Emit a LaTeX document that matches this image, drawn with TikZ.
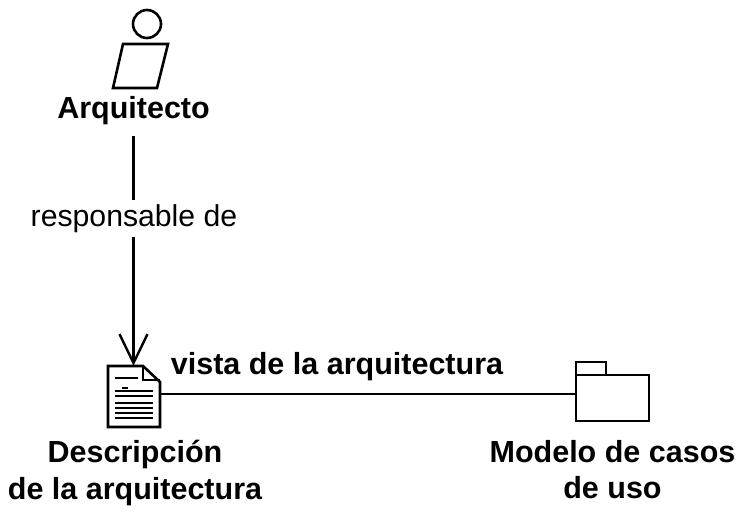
\documentclass[tikz,border=0pt]{standalone}
\usepackage{fontspec}
\setmainfont{Liberation Sans}
\usetikzlibrary{arrows.meta}
\tikzset{
  shapeline/.style={draw=black,line width=2.6pt,line join=miter,fill=white},
  rule/.style={draw=black,line width=2pt},
  conn/.style={draw=black,line width=2.4pt},
  boldlabel/.style={font=\fontsize{30.5}{37}\selectfont\bfseries,align=center,inner sep=0pt},
  boldlabeltight/.style={font=\fontsize{30.5}{36}\selectfont\bfseries,align=center,inner sep=0pt},
  connlabel/.style={font=\fontsize{30.2}{34}\selectfont,inner sep=0pt},
}
\begin{document}
\begin{tikzpicture}[x=1pt,y=-1pt]
\useasboundingbox (0,0) rectangle (742,515);
% actor
\node[shapeline,circle,minimum size=28pt,inner sep=0pt] (head) at (147,24) {};
\draw[shapeline] (123,44) -- (168,44) -- (157,88) -- (113,88) -- cycle;
\node[boldlabel] (arq) at (133.5,110.5) {Arquitecto};
% document
\node[inner sep=0pt,minimum width=52pt,minimum height=61pt] (doc) at (134,396.5) {};
\draw[shapeline] (108,366) -- (143,366) -- (160,382) -- (160,427) -- (108,427) -- cycle;
\draw[draw=black,line width=2pt,line join=miter] (143,366) -- (143,380) -- (160,380);
\foreach \yy/\xa/\xb in {378/115/138, 388/122/128, 390.5/115/153, 396/115/153, 403/115/153, 408/115/153, 413/115/153, 418/115/153}{
  \draw[rule] (\xa,\yy) -- (\xb,\yy);
}
\node[boldlabel] (desc) at (135,472.5) {Descripción\\de la arquitectura};
% package
\node[inner sep=0pt,minimum width=73pt,minimum height=46pt] (pkg) at (612.5,398) {};
\draw[shapeline] (576,362) rectangle (606,375);
\draw[shapeline] (576,375) rectangle (649,421);
\node[boldlabeltight] (mod) at (612.5,470) {Modelo de casos\\de uso};
% connectors
\draw[conn,-{Straight Barb[length=29pt,width=28pt,line width=2.4pt]}] (arq.south) ++(0,11) coordinate (arqfoot) -- (arqfoot |- doc.north);
\draw[conn] (doc.east |- 0,394) coordinate (dl) -- (dl -| pkg.west);
% labels
\node[connlabel,fill=white,minimum height=37pt] (resp) at (134,218.5) {responsable de};
\node[boldlabel] (vista) at (337,367) {vista de la arquitectura};
\end{tikzpicture}
\end{document}
